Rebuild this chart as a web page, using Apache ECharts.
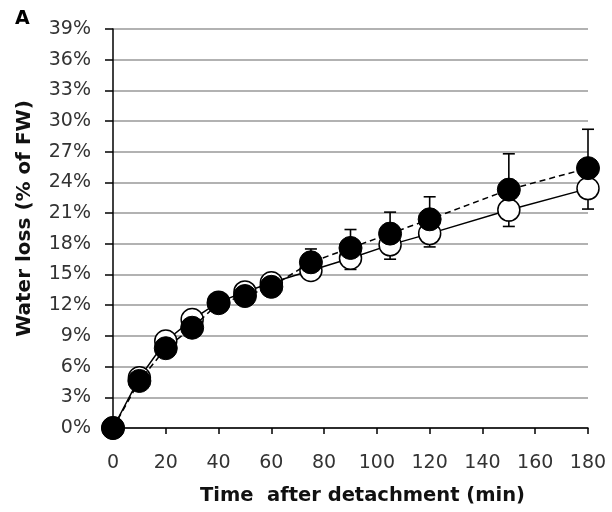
<!DOCTYPE html>
<html>
<head>
	<meta charset="utf-8">
	<title>Water loss</title>
	<script src="https://cdn.jsdelivr.net/npm/echarts@6/dist/echarts.min.js"></script>
	<style>
		html, body { margin: 0; padding: 0; background: #fff; }
		#chart { width: 612px; height: 512px; }
	</style>
</head>
<body>
	<div id="chart"></div>
	<script>
		// time after detachment (min)
		var times = [0, 10, 20, 30, 40, 50, 60, 75, 90, 105, 120, 150, 180];
		// filled circles (dashed line), error shown upward
		var filledVals = [0, 4.6, 7.8, 9.8, 12.2, 12.9, 13.8, 16.2, 17.6, 19.0, 20.4, 23.3, 25.4];
		var filledErr = [0, 0.4, 0.5, 0.5, 0.5, 0.5, 0.6, 1.3, 1.8, 2.1, 2.2, 3.5, 3.8];
		// open circles (solid line), error shown downward
		var openVals = [0, 4.9, 8.5, 10.6, 12.3, 13.3, 14.2, 15.4, 16.6, 17.9, 19.0, 21.3, 23.4];
		var openErr = [0, 0.4, 0.5, 0.5, 0.5, 0.5, 0.6, 0.8, 1.1, 1.4, 1.3, 1.6, 2.0];

		var chart = echarts.init(document.getElementById('chart'));

		function pairs(vals) {
			return times.map(function (t, i) { return [t, vals[i]]; });
		}
		function errData(vals, err, sign) {
			return times.map(function (t, i) { return [t, vals[i], vals[i] + sign * err[i]]; });
		}
		// vertical bar with a cap at the far end
		function renderErr(params, api) {
			var p0 = api.coord([api.value(0), api.value(1)]);
			var p1 = api.coord([api.value(0), api.value(2)]);
			var hw = 6;
			var st = { stroke: '#000', lineWidth: 1.6 };
			return {
				type: 'group',
				children: [
					{ type: 'line', shape: { x1: p0[0], y1: p0[1], x2: p1[0], y2: p1[1] }, style: st },
					{ type: 'line', shape: { x1: p1[0] - hw, y1: p1[1], x2: p1[0] + hw, y2: p1[1] }, style: st }
				]
			};
		}

		var font = 'DejaVu Sans';
		var option = {
			animation: false,
			grid: { left: 113, right: 24, top: 29, bottom: 84 },
			graphic: [{
				type: 'text', left: 15, top: 10,
				style: { text: 'A', font: 'bold 19px "DejaVu Sans"', fill: '#000' }
			}],
			xAxis: {
				type: 'value', min: 0, max: 180, interval: 20,
				name: 'Time  after detachment (min)',
				nameLocation: 'middle', nameGap: 58,
				nameTextStyle: { fontFamily: font, fontWeight: 'bold', fontSize: 19.5, color: '#111', padding: [0, 0, 0, 24] },
				axisLine: { show: true, lineStyle: { color: '#000', width: 1.5 } },
				axisTick: { show: true, length: 6, lineStyle: { color: '#000', width: 1.5 } },
				axisLabel: { margin: 26, fontFamily: font, fontSize: 19, color: '#333' },
				splitLine: { show: false }
			},
			yAxis: {
				type: 'value', min: 0, max: 39, interval: 3,
				name: 'Water loss (% of FW)',
				nameLocation: 'middle', nameGap: 78,
				nameTextStyle: { fontFamily: font, fontWeight: 'bold', fontSize: 20, color: '#111', padding: [0, 0, 0, 20] },
				axisLine: { show: true, lineStyle: { color: '#000', width: 1.5 } },
				axisTick: { show: true, length: 8, lineStyle: { color: '#000', width: 1.5 } },
				axisLabel: { margin: 22, fontFamily: font, fontSize: 19, color: '#333', formatter: '{value}%' },
				splitLine: { show: true, lineStyle: { color: '#999', width: 1.5 } }
			},
			series: [
				{
					type: 'custom', name: 'open err', renderItem: renderErr,
					data: errData(openVals, openErr, -1), z: 2, silent: true
				},
				{
					type: 'custom', name: 'filled err', renderItem: renderErr,
					data: errData(filledVals, filledErr, 1), z: 2, silent: true
				},
				{
					type: 'line', name: 'open', data: pairs(openVals), z: 3,
					symbol: 'circle', symbolSize: 22,
					lineStyle: { color: '#000', width: 1.5, type: 'solid' },
					itemStyle: { color: '#fff', borderColor: '#000', borderWidth: 1.5 }
				},
				{
					type: 'line', name: 'filled', data: pairs(filledVals), z: 4,
					symbol: 'circle', symbolSize: 23,
					lineStyle: { color: '#000', width: 1.5, type: [6, 4] },
					itemStyle: { color: '#000', borderColor: '#000', borderWidth: 1 }
				}
			]
		};
		chart.setOption(option);
	</script>
</body>
</html>
